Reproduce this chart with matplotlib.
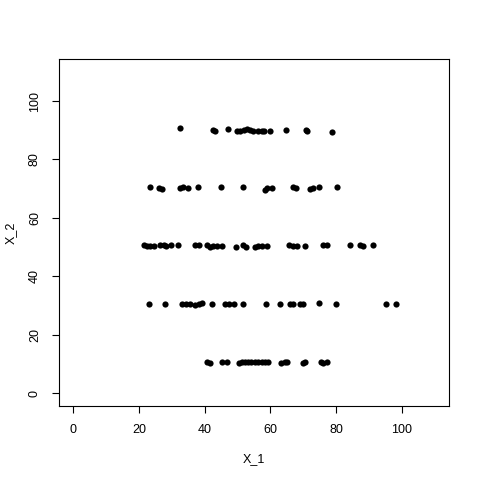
"""
Scatter of X_1 against X_2 in the style of an R base plot.
"""

import matplotlib
matplotlib.use("Agg")
import matplotlib.pyplot as plt

plt.rcParams['font.family'] = ['Liberation Sans', 'DejaVu Sans']

# points, one list per row of X_2
row90_x = [32.6, 42.5, 43.2, 47.2, 49.7, 50.8, 52.0, 52.8, 53.8, 54.8, 56.3, 57.3, 58.1, 59.9, 64.7, 70.7, 71.0, 78.7]
row90_y = [90.7, 90.0, 89.8, 90.5, 89.8, 89.8, 90.0, 90.3, 90.2, 89.9, 89.7, 89.6, 89.7, 89.6, 90.0, 90.0, 89.8, 89.5]

row70_x = [23.2, 26.1, 27.0, 32.5, 33.5, 34.9, 37.8, 45.0, 51.8, 58.4, 58.9, 60.4, 67.0, 67.8, 72.2, 73.0, 74.9, 80.3]
row70_y = [70.6, 70.4, 70.0, 70.1, 70.5, 70.4, 70.5, 70.6, 70.6, 69.6, 70.2, 70.3, 70.5, 70.1, 70.0, 70.3, 70.5, 70.5]

row50_x = [21.4, 22.4, 23.4, 24.4, 26.4, 27.5, 28.3, 29.8, 32.0, 37.1, 38.1, 40.6, 41.6, 42.5, 43.7, 45.2, 49.5, 51.8,
           52.6, 55.3, 56.3, 57.3, 58.9, 65.7, 67.0, 68.0, 70.5, 76.1, 77.1, 84.2, 87.2, 88.2, 91.3]
row50_y = [50.6, 50.4, 50.3, 50.5, 50.7, 50.6, 50.3, 50.6, 50.7, 50.7, 50.6, 50.6, 50.2, 50.4, 50.3, 50.3, 50.2, 50.6,
           50.1, 50.1, 50.5, 50.3, 50.3, 50.6, 50.4, 50.4, 50.5, 50.6, 50.6, 50.6, 50.7, 50.3, 50.6]

row30_x = [22.9, 28.0, 33.0, 34.4, 35.6, 37.1, 38.1, 39.1, 42.2, 46.2, 47.5, 48.9, 51.8, 58.7, 62.9, 66.0, 67.0, 69.0,
           70.0, 74.9, 80.1, 95.1, 98.2]
row30_y = [30.5, 30.5, 30.4, 30.5, 30.4, 30.3, 30.5, 30.8, 30.5, 30.5, 30.5, 30.5, 30.5, 30.5, 30.5, 30.4, 30.5, 30.6,
           30.4, 30.9, 30.5, 30.5, 30.5]

row10_x = [40.8, 41.7, 45.2, 46.7, 50.3, 51.3, 52.3, 53.3, 54.1, 55.3, 56.3, 57.3, 58.4, 59.4, 63.1, 64.4, 65.2, 70.0,
           70.5, 75.4, 76.1, 77.1]
row10_y = [10.5, 10.2, 10.5, 10.6, 10.3, 10.7, 10.5, 10.8, 10.5, 10.6, 10.6, 10.5, 10.5, 10.5, 10.2, 10.6, 10.5, 10.4,
           10.5, 10.6, 10.4, 10.5]

x_ticks = [0, 20, 40, 60, 80, 100]
y_ticks = [0, 20, 40, 60, 80, 100]


def main():
    fig = plt.figure(figsize=(4.8, 4.8), dpi=100)
    ax = fig.add_axes([59 / 480, 74 / 480, 390 / 480, 347 / 480])

    all_x = row90_x + row70_x + row50_x + row30_x + row10_x
    all_y = row90_y + row70_y + row50_y + row30_y + row10_y
    ax.scatter(all_x, all_y, s=20, color='black', linewidths=0)

    ax.set_xlim(-4.4, 114.4)
    ax.set_ylim(-4.4, 114.4)
    ax.set_xticks(x_ticks)
    ax.set_yticks(y_ticks)
    ax.tick_params(axis='both', direction='out', length=5, width=0.8, labelsize=9, pad=8)
    for lab in ax.get_yticklabels():
        lab.set_rotation(90)
        lab.set_va('center')

    for side in ['left', 'bottom', 'right', 'top']:
        ax.spines[side].set_linewidth(0.8)

    ax.set_xlabel('X_1', fontsize=9, labelpad=12)
    ax.set_ylabel('X_2', fontsize=9, labelpad=9)

    fig.savefig('out.png', dpi=100)


if __name__ == "__main__":
    main()
